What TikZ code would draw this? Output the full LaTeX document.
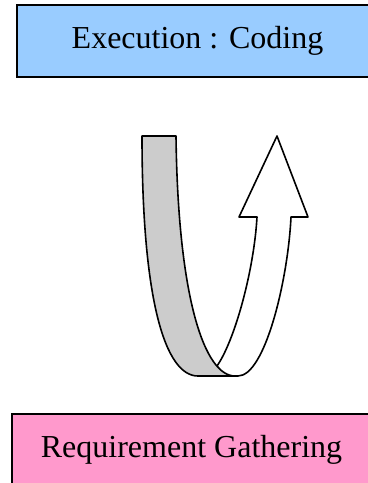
\documentclass[tikz,border=0pt]{standalone}
\usepackage{fontspec}
\setmainfont{Liberation Serif}
\usetikzlibrary{positioning}
\definecolor{phaseblue}{HTML}{99CCFF}
\definecolor{phasepink}{HTML}{FF99CC}
\definecolor{bandgray}{HTML}{CCCCCC}
\tikzstyle{phase}  = [rectangle, draw=black, line width=1pt, text centered,
                      minimum height=36pt, inner sep=0pt, font=\fontsize{16}{19}\selectfont]
\tikzstyle{ribbon} = [draw=black, line width=0.8pt, line join=round]

\begin{document}
\begin{tikzpicture}[x=0.5pt, y=-0.5pt]
  \useasboundingbox (0,0) rectangle (368,483);
  \clip (0,0) rectangle (368,483);

  % Phase boxes
  \node (coding) [phase, fill=phaseblue, minimum width=180.5pt] at (197.5,41) {Execution : Coding};
  \node (reqs)   [phase, fill=phasepink, minimum width=179.5pt] at (191.5,450) {Requirement Gathering};

  % Up arrow (front side)
  \draw[ribbon, fill=white] (217,366) -- (225,376) -- (238,376)
        .. controls (265,376) and (288,280) .. (291,217)
        -- (308,217) -- (277,136) -- (239,217) -- (257,217)
        .. controls (254,270) and (235,340) .. cycle;

  % Folded band (back side), drawn over the fold
  \draw[ribbon, fill=bandgray] (142,136) -- (176,136)
        .. controls (178,300) and (205,376) .. (235,376) -- (198,376)
        .. controls (165,376) and (142,300) .. cycle;

\end{tikzpicture}
\end{document}
